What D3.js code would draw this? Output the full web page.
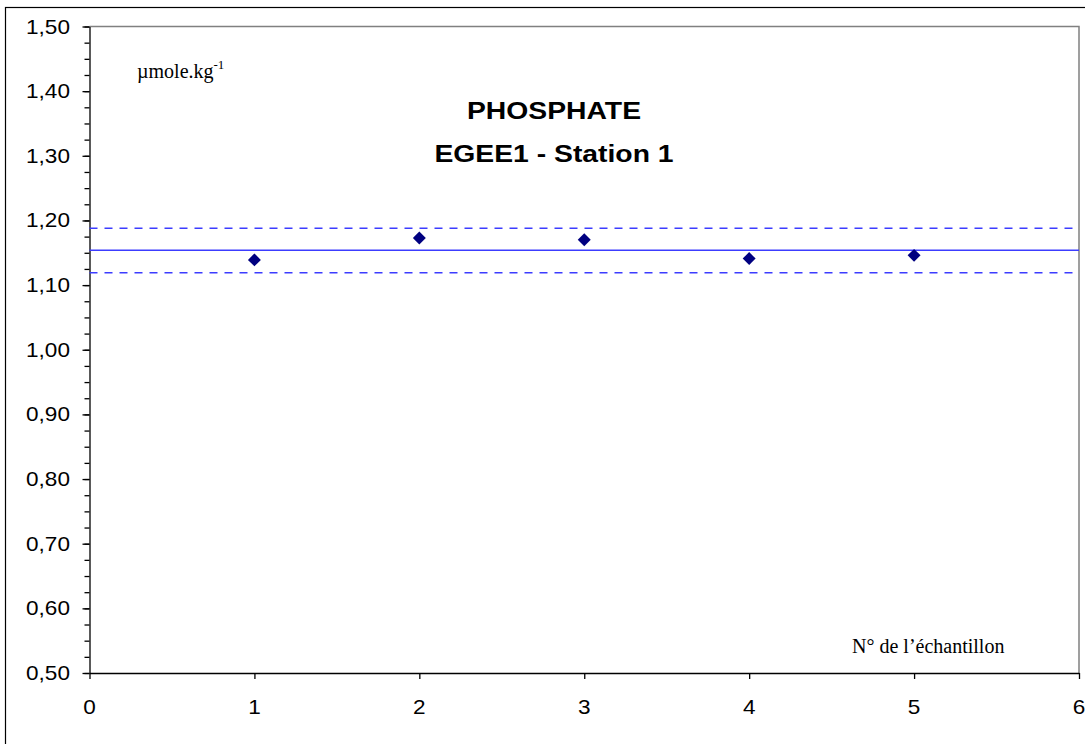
<!DOCTYPE html>
<html>
<head>
<meta charset="utf-8">
<script src="https://cdn.jsdelivr.net/npm/d3@7"></script>
<style>
  body { margin: 0; background: #fff; }
  svg { display: block; }
</style>
</head>
<body>
<svg id="chart" width="1085" height="744"></svg>
<script>
// measured samples (N° de l'échantillon -> µmole/kg)
var sampleNo = [1, 2, 3, 4, 5],
    phosphate = [1.139, 1.173, 1.170, 1.141, 1.146];

var meanValue = 1.154,
    limits = [1.119, 1.188];   // dashed lines, about +-3%

var xTicks = [0, 1, 2, 3, 4, 5, 6],
    yTicks = [0.5, 0.6, 0.7, 0.8, 0.9, 1.0, 1.1, 1.2, 1.3, 1.4, 1.5],
    yMinor = d3.range(0.5, 1.5001, 0.025);

var titleLines = ["PHOSPHATE", "EGEE1 - Station 1"];

var svg = d3.select("#chart"),
    stretch = 1.13,   // the original labels are drawn a bit wide
    fmt = function(v) { return d3.format(".2f")(v).replace(".", ","); };

var x = d3.scaleLinear().domain([0, 6]).range([89.5, 1079]),
    y = d3.scaleLinear().domain([0.5, 1.5]).range([673, 26.5]);

// outer frame
svg.append("rect")
    .attr("x", 5.5).attr("y", 7.5)
    .attr("width", 1100).attr("height", 760)
    .style("fill", "none").style("stroke", "#000").style("stroke-width", 1.2);

// plot frame (top + right grey)
svg.append("path")
    .attr("d", "M" + x(0) + "," + y(1.5) + "H" + x(6) + "V" + y(0.5))
    .style("fill", "none").style("stroke", "#808080").style("stroke-width", 1.5);

// y axis, minor then major ticks
svg.append("g")
    .attr("transform", "translate(" + x(0) + ",0)")
    .call(d3.axisLeft(y).tickValues(yMinor).tickSize(5).tickFormat(""))
    .call(function(g) { g.select(".domain").remove(); });
svg.append("g")
    .attr("transform", "translate(" + x(0) + ",0)")
    .call(d3.axisLeft(y).tickValues(yTicks).tickSize(7).tickSizeOuter(0).tickFormat(""));

// x axis
svg.append("g")
    .attr("transform", "translate(0," + y(0.5) + ")")
    .call(d3.axisBottom(x).tickValues(xTicks).tickSize(6).tickSizeOuter(0).tickFormat(""));

svg.selectAll(".domain, .tick line")
    .style("stroke", "#000").style("stroke-width", 1.3);

// tick labels
svg.selectAll("text.ylab")
    .data(yTicks)
  .enter().append("text")
    .attr("class", "ylab")
    .attr("transform", function(d) { return "translate(70," + (y(d) + 7) + ") scale(" + stretch + ",1)"; })
    .attr("text-anchor", "end")
    .style("font", "20px 'Liberation Sans', Arial, sans-serif")
    .text(fmt);

svg.selectAll("text.xlab")
    .data(xTicks)
  .enter().append("text")
    .attr("class", "xlab")
    .attr("transform", function(d) { return "translate(" + x(d) + ",714) scale(" + stretch + ",1)"; })
    .attr("text-anchor", "middle")
    .style("font", "20px 'Liberation Sans', Arial, sans-serif")
    .text(function(d) { return d; });

// mean and limit lines
svg.append("line")
    .attr("x1", x(0)).attr("x2", x(6))
    .attr("y1", y(meanValue)).attr("y2", y(meanValue))
    .style("stroke", "#3c3cff").style("stroke-width", 1.4);

svg.selectAll("line.limit")
    .data(limits)
  .enter().append("line")
    .attr("class", "limit")
    .attr("x1", x(0)).attr("x2", x(6))
    .attr("y1", y).attr("y2", y)
    .style("stroke", "#3c3cff").style("stroke-width", 1.4)
    .style("stroke-dasharray", "8,7");

// samples
svg.selectAll("path.pt")
    .data(sampleNo)
  .enter().append("path")
    .attr("class", "pt")
    .attr("d", d3.symbol(d3.symbolSquare, 84))
    .attr("transform", function(d, i) { return "translate(" + x(d) + "," + y(phosphate[i]) + ") rotate(45)"; })
    .style("fill", "#000080");

// title
svg.selectAll("text.title")
    .data(titleLines)
  .enter().append("text")
    .attr("class", "title")
    .attr("transform", function(d, i) { return "translate(554," + (119 + i * 43) + ") scale(1.18,1)"; })
    .attr("text-anchor", "middle")
    .style("font", "bold 24px 'Liberation Sans', Arial, sans-serif")
    .text(function(d) { return d; });

// unit label
var unit = svg.append("text")
    .attr("x", 137).attr("y", 78)
    .style("font", "20px 'Liberation Serif', 'Times New Roman', serif");
unit.append("tspan").text("µmole.kg");
unit.append("tspan").attr("dy", -9).style("font-size", "13px").text("-1");

// x axis label
svg.append("text")
    .attr("x", 852).attr("y", 653)
    .style("font", "20px 'Liberation Serif', 'Times New Roman', serif")
    .text("N° de l’échantillon");
</script>
</body>
</html>
